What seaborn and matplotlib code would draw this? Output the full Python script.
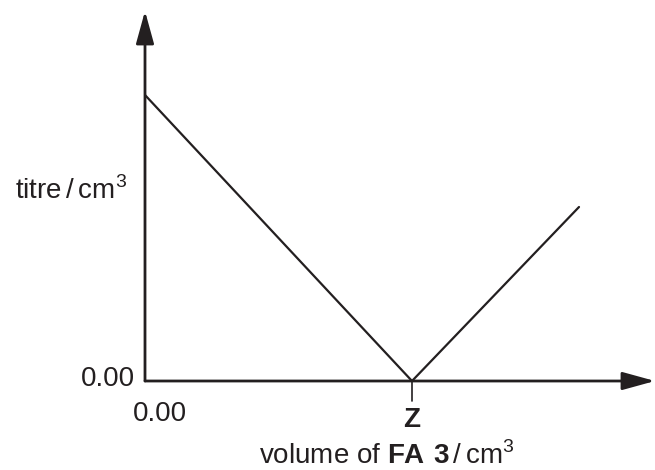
import matplotlib
matplotlib.use("Agg")
import matplotlib.pyplot as plt
import seaborn as sns
import pandas as pd

# sketch values (arbitrary units)
volume_fa3 = [0.0, 26.7, 43.4]
titre = [28.6, 0.0, 17.4]
z_volume = 26.7
x_max = 51.0
y_max = 37.0

sns.set_style("white")
plt.rcParams["font.family"] = ["Liberation Sans", "DejaVu Sans"]
plt.rcParams["mathtext.fontset"] = "custom"
plt.rcParams["mathtext.rm"] = "Liberation Sans"
plt.rcParams["mathtext.bf"] = "Liberation Sans:bold"

ink = "#231f20"

fig = plt.figure(figsize=(6.55, 4.70), dpi=100)
ax = fig.add_axes([145 / 655, 89 / 470, 510 / 655, 370 / 470])

df = pd.DataFrame({"volume": volume_fa3, "titre": titre})
sns.lineplot(data=df, x="volume", y="titre", sort=False, color=ink, linewidth=1.6, ax=ax)

ax.set_xlim(0, x_max)
ax.set_ylim(0, y_max)
for s in ax.spines.values():
    s.set_visible(False)
ax.set_xticks([])
ax.set_yticks([])
ax.set_xlabel("")
ax.set_ylabel("")

# axes with arrow heads
arrow = dict(arrowstyle="-|>,head_length=2.0,head_width=0.55", color=ink, lw=2.0,
             shrinkA=0, shrinkB=0)
ax.annotate("", xy=(1.0, 0), xytext=(0, 0), xycoords="axes fraction",
            arrowprops=arrow, annotation_clip=False)
ax.annotate("", xy=(0, 1.0), xytext=(0, 0), xycoords="axes fraction",
            arrowprops=arrow, annotation_clip=False)

# tick at Z
ax.plot([z_volume, z_volume], [0, -2.0], color=ink, lw=1.2, clip_on=False)

fs = 20
ax.text(-1.0, 0.2, "0.00", ha="right", va="center", fontsize=fs, color=ink)
ax.text(1.5, -3.3, "0.00", ha="center", va="center", fontsize=fs, color=ink)
ax.text(z_volume, -3.9, "$\\mathbf{Z}$", ha="center", va="center", fontsize=fs,
        color=ink)
ax.text(-1.8, 19.0, "titre$\\,$/$\\,$cm$^3$", ha="right", va="center",
        fontsize=fs, color=ink)
ax.text(24.2, -8.3, "volume of $\\mathbf{FA\\ 3}$$\\,$/$\\,$cm$^3$", ha="center",
        va="baseline", fontsize=fs, color=ink)

fig.savefig("out.png", dpi=100)
